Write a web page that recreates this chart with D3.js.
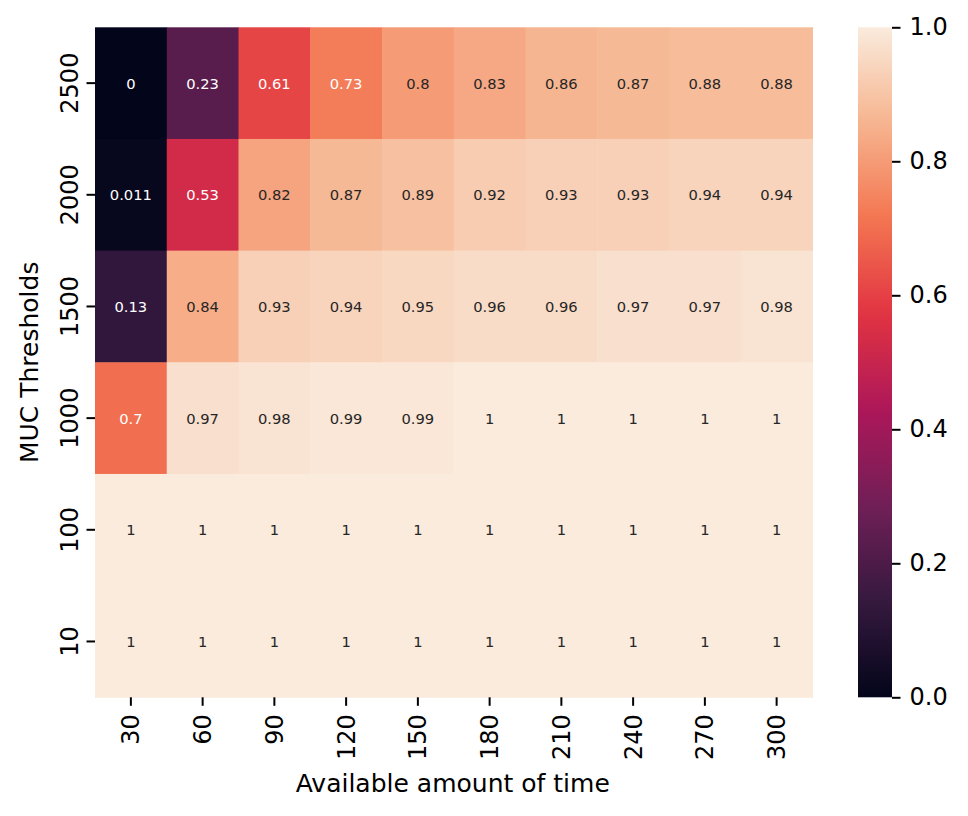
<!DOCTYPE html>
<html lang="en">
<head>
  <meta charset="UTF-8" />
  <title>MUC Thresholds heatmap</title>
  <script src="https://d3js.org/d3.v7.min.js"></script>
  <style>
    body { margin:0; padding:0; background:#fff; font-family:"DejaVu Sans", sans-serif; }
    svg { display:block; }
    .axis text { font-size:24px; fill:#000; font-family:"DejaVu Sans", sans-serif; }
    .axis path { display:none; }
    .axis line { stroke:#000; stroke-width:2px; }
    .cell-label { font-size:14.7px; font-family:"DejaVu Sans", sans-serif; }
    .axis-title { font-size:25px; fill:#000; font-family:"DejaVu Sans", sans-serif; }
  </style>
</head>
<body>
<svg width="968" height="816"></svg>
<script>
  // chart data
  const times = [30, 60, 90, 120, 150, 180, 210, 240, 270, 300];
  const thresholds = [2500, 2000, 1500, 1000, 100, 10];
  const values = [
    [0, 0.23, 0.61, 0.73, 0.8, 0.83, 0.86, 0.87, 0.88, 0.88],
    [0.011, 0.53, 0.82, 0.87, 0.89, 0.92, 0.93, 0.93, 0.94, 0.94],
    [0.13, 0.84, 0.93, 0.94, 0.95, 0.96, 0.96, 0.97, 0.97, 0.98],
    [0.7, 0.97, 0.98, 0.99, 0.99, 1, 1, 1, 1, 1],
    [1, 1, 1, 1, 1, 1, 1, 1, 1, 1],
    [1, 1, 1, 1, 1, 1, 1, 1, 1, 1]
  ];
  const colorbarTicks = [0, 0.2, 0.4, 0.6, 0.8, 1.0];

  // approximation of seaborn "rocket"
  const rocketStops = [0, 1/7, 2/7, 3/7, 4/7, 5/7, 6/7, 1];
  const rocketColors = ['#03051a', '#35193e', '#701f57', '#ad1759', '#e13342', '#f37651', '#f6b48f', '#faebdd'];
  const color = d3.scaleLinear().domain(rocketStops).range(rocketColors)
    .interpolate(d3.interpolateRgb).clamp(true);

  const svg = d3.select('svg');
  const L = 95, T = 27.3, W = 717.5, H = 670;

  const x = d3.scaleBand().domain(times).range([L, L + W]);
  const y = d3.scaleBand().domain(thresholds).range([T, T + H]);

  const cells = [];
  thresholds.forEach((t, i) => times.forEach((m, j) => cells.push({t, m, v: values[i][j]})));

  function lum(c) {
    const rgb = d3.rgb(c);
    const f = v => { v /= 255; return v <= 0.03928 ? v / 12.92 : Math.pow((v + 0.055) / 1.055, 2.4); };
    return 0.2126 * f(rgb.r) + 0.7152 * f(rgb.g) + 0.0722 * f(rgb.b);
  }

  svg.append('g').selectAll('rect').data(cells).enter().append('rect')
    .attr('x', d => x(d.m))
    .attr('y', d => y(d.t))
    .attr('width', x.bandwidth() + 0.5)
    .attr('height', y.bandwidth() + 0.5)
    .attr('fill', d => color(d.v));

  svg.append('g').selectAll('text').data(cells).enter().append('text')
    .attr('class', 'cell-label')
    .attr('x', d => x(d.m) + x.bandwidth() / 2)
    .attr('y', d => y(d.t) + y.bandwidth() / 2)
    .attr('text-anchor', 'middle')
    .attr('dominant-baseline', 'central')
    .attr('fill', d => lum(color(d.v)) > 0.408 ? '#262626' : '#fff')
    .text(d => d3.format('.2~g')(d.v));

  // x axis
  const xAxis = svg.append('g').attr('class', 'axis')
    .attr('transform', `translate(0,${T + H})`)
    .call(d3.axisBottom(x).tickSize(8.5).tickPadding(0));
  xAxis.selectAll('text')
    .attr('transform', 'rotate(-90)')
    .attr('text-anchor', 'end')
    .attr('dy', '0.35em')
    .attr('x', -17)
    .attr('y', 0);

  // y axis
  const yAxis = svg.append('g').attr('class', 'axis')
    .attr('transform', `translate(${L},0)`)
    .call(d3.axisLeft(y).tickSize(8.5).tickPadding(0));
  yAxis.selectAll('text')
    .attr('transform', 'rotate(-90)')
    .attr('text-anchor', 'middle')
    .attr('x', 0)
    .attr('y', -17)
    .attr('dy', 0);

  svg.append('text').attr('class', 'axis-title')
    .attr('x', L + W / 2 - 1).attr('y', 792)
    .attr('text-anchor', 'middle')
    .text('Available amount of time');

  svg.append('text').attr('class', 'axis-title')
    .attr('transform', `translate(38,${T + H / 2}) rotate(-90)`)
    .attr('text-anchor', 'middle')
    .text('MUC Thresholds');

  // colorbar
  const cbX = 858, cbW = 34;
  const cbScale = d3.scaleLinear().domain([0, 1]).range([T + H, T]);
  const grad = svg.append('defs').append('linearGradient')
    .attr('id', 'cbgrad').attr('x1', 0).attr('y1', 1).attr('x2', 0).attr('y2', 0);
  d3.range(0, 1.0001, 0.02).forEach(s => {
    grad.append('stop').attr('offset', s).attr('stop-color', color(s));
  });
  svg.append('rect')
    .attr('x', cbX).attr('y', T).attr('width', cbW).attr('height', H)
    .attr('fill', 'url(#cbgrad)');
  svg.append('g').attr('class', 'axis')
    .attr('transform', `translate(${cbX + cbW},0)`)
    .call(d3.axisRight(cbScale).tickValues(colorbarTicks).tickFormat(d3.format('.1f')).tickSize(8.5).tickPadding(9));
</script>
</body>
</html>
